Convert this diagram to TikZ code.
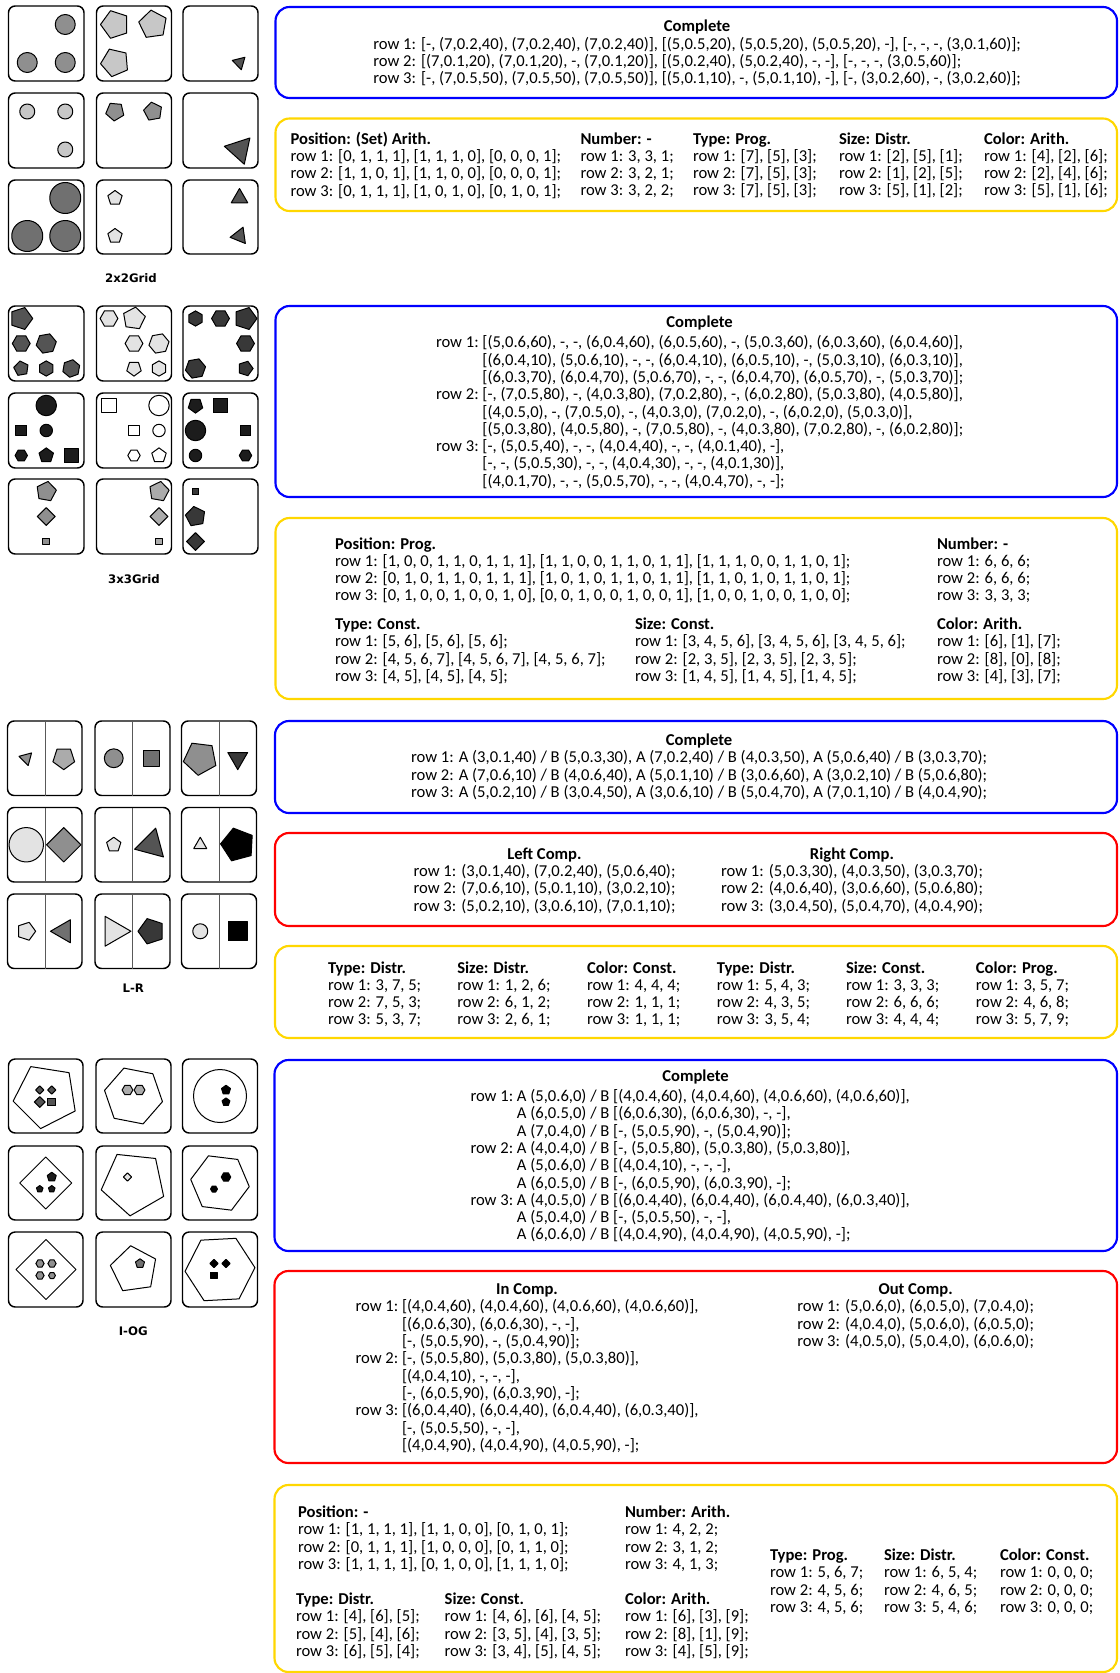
\documentclass[tikz,border=0pt]{standalone}
\usepackage{fontspec}
\setmainfont{Carlito}
\newfontfamily\lblfont{DejaVu Sans}
\definecolor{bxblue}{RGB}{0,0,255}
\definecolor{bxyellow}{RGB}{255,215,0}
\definecolor{bxred}{RGB}{255,0,0}
\colorlet{c0}{white}
\colorlet{c10}{black!11}
\colorlet{c20}{black!22}
\colorlet{c30}{black!33}
\colorlet{c40}{black!44}
\colorlet{c50}{black!56}
\colorlet{c60}{black!67}
\colorlet{c70}{black!78}
\colorlet{c80}{black!89}
\colorlet{c90}{black}
\newcommand\poly[6]{\filldraw[shp,fill=#6,shift={(#2,#3)}] ({0-(#5)}:#4) \foreach \k in {2,...,#1}{ -- ({0-(#5)-(\k-1)*360/#1}:#4)} -- cycle;}
\newcommand\crc[4]{\filldraw[shp,fill=#4] (#1,#2) circle[radius=#3*0.75pt];}
\newcommand\pnl[4]{\draw[panel] (#1,#2) rectangle (#3,#4);}
\begin{document}
\begin{tikzpicture}[x=0.75pt,y=-0.75pt,
 panel/.style={draw=black,line width=1.1pt,rounded corners=5pt,fill=white},
 shp/.style={draw=black,line width=0.75pt,line join=round},
 infobox/.style={line width=1.6pt,rounded corners=10.5pt},
 txt/.style={inner sep=0pt,outer sep=0pt,anchor=north west,font=\fontsize{12.45pt}{12.9pt}\selectfont},
 lbl/.style={inner sep=0pt,font=\lblfont\bfseries\fontsize{8.8pt}{10pt}\selectfont},
 divider/.style={draw=black!65,line width=0.6pt}]
\useasboundingbox (0,0) rectangle (1120,1673);
\fill[white] (0,0) rectangle (1120,1673);

% ---------------- 2x2Grid panels
\pnl{8.5}{6}{84}{81} \pnl{96.5}{6}{171.5}{81} \pnl{183}{6}{258}{81}
\pnl{8.5}{93}{84}{168} \pnl{96.5}{93}{171.5}{168} \pnl{183}{93}{258}{168}
\pnl{8.5}{180}{84}{254} \pnl{96.5}{180}{171.5}{254} \pnl{183}{180}{258}{254}
% row 1
\crc{65.25}{24.5}{10}{c40} \crc{27.25}{62.5}{10}{c40} \crc{65.25}{62.5}{10}{c40}
\poly{5}{115}{24.5}{14.5}{180}{c20} \poly{5}{153}{24.5}{14.5}{170}{c20} \poly{5}{115}{62.5}{14.5}{185}{c20}
\poly{3}{239.5}{62.5}{7.5}{44}{c60}
% row 2
\crc{27.25}{111.5}{7.5}{c20} \crc{65.25}{111.5}{7.5}{c20} \crc{65.25}{149.5}{7.5}{c20}
\poly{5}{115}{111.5}{9.5}{-95}{c40} \poly{5}{153}{111.5}{9.5}{100}{c40}
\poly{3}{239.5}{149.5}{15.5}{48}{c60}
% row 3
\crc{65.25}{198}{15.5}{c50} \crc{27.25}{236}{15.5}{c50} \crc{65.25}{236}{15.5}{c50}
\poly{5}{115}{198}{7.5}{90}{c10} \poly{5}{115}{236}{7.5}{90}{c10}
\poly{3}{239.5}{198}{9.5}{90}{c60} \poly{3}{239.5}{236}{9.5}{68}{c60}
\node[lbl] (lab1) at (131,278.4) {2x2Grid};

% ---------------- 3x3Grid panels
\pnl{8.5}{306}{84}{381} \pnl{96.5}{306}{171.5}{381} \pnl{183}{306}{258}{381}
\pnl{8.5}{393}{84}{468} \pnl{96.5}{393}{171.5}{468} \pnl{183}{393}{258}{468}
\pnl{8.5}{479}{84}{554} \pnl{96.5}{479}{171.5}{554} \pnl{183}{479}{258}{554}
% row 1
\poly{5}{21.25}{318.5}{11.5}{0}{c60}
\poly{6}{21.25}{343.5}{8.9}{0}{c60}
\poly{6}{46.25}{343.5}{10.2}{10}{c60}
\poly{5}{21.25}{368.5}{7.6}{100}{c60}
\poly{6}{46.25}{368.5}{7.6}{90}{c60}
\poly{6}{71.25}{368.5}{8.9}{20}{c60}
\poly{6}{109}{318.5}{8.9}{0}{c10}
\poly{5}{134}{318.5}{11.5}{10}{c10}
\poly{6}{134}{343.5}{8.9}{0}{c10}
\poly{6}{159}{343.5}{10.2}{10}{c10}
\poly{5}{134}{368.5}{7.6}{-90}{c10}
\poly{6}{159}{368.5}{7.6}{90}{c10}
\poly{6}{195.5}{318.5}{7.6}{90}{c70}
\poly{6}{220.5}{318.5}{8.9}{0}{c70}
\poly{5}{245.5}{318.5}{11.5}{0}{c70}
\poly{6}{245.5}{343.5}{8.9}{0}{c70}
\poly{6}{195.5}{368.5}{10.2}{10}{c70}
\poly{5}{245.5}{368.5}{7.6}{0}{c70}
% row 2
\crc{46.25}{405.5}{10.2}{c80} \poly{4}{21.25}{430.5}{7.6}{45}{c80} \crc{46.25}{430.5}{6.2}{c80}
\poly{6}{21.25}{455.5}{6.2}{0}{c80} \poly{5}{46.25}{455.5}{7.6}{90}{c80} \poly{4}{71.25}{455.5}{10.2}{45}{c80}
\poly{4}{109}{405.5}{10.2}{45}{c0} \crc{159}{405.5}{10.2}{c0} \poly{4}{134}{430.5}{7.6}{45}{c0}
\crc{159}{430.5}{6.2}{c0} \poly{6}{134}{455.5}{6.2}{0}{c0} \poly{5}{159}{455.5}{7.6}{90}{c0}
\poly{5}{195.5}{405.5}{7.6}{-90}{c80} \poly{4}{220.5}{405.5}{10.2}{45}{c80} \crc{195.5}{430.5}{10.2}{c80}
\poly{4}{245.5}{430.5}{7.6}{45}{c80} \crc{195.5}{455.5}{6.2}{c80} \poly{6}{245.5}{455.5}{6.2}{0}{c80}
% row 3
\poly{5}{46.25}{491.5}{10.2}{80}{c40} \poly{4}{46.25}{516.5}{8.9}{90}{c40} \poly{4}{46.25}{541.5}{4.9}{45}{c40}
\poly{5}{159}{491.5}{10.2}{80}{c30} \poly{4}{159}{516.5}{8.9}{90}{c30} \poly{4}{159}{541.5}{4.9}{45}{c30}
\poly{4}{195.5}{491.5}{4.9}{45}{c70} \poly{5}{195.5}{516.5}{10.2}{100}{c70} \poly{4}{195.5}{541.5}{8.9}{90}{c70}
\node[lbl] (lab2) at (134,579.2) {3x3Grid};

% ---------------- L-R panels
\pnl{7.5}{721}{82}{795.5} \pnl{95}{721}{170}{795.5} \pnl{181.5}{721}{256.5}{795.5}
\pnl{7.5}{807.5}{82}{882} \pnl{95}{807.5}{170}{882} \pnl{181.5}{807.5}{256.5}{882}
\pnl{7.5}{894}{82}{968.5} \pnl{95}{894}{170}{968.5} \pnl{181.5}{894}{256.5}{968.5}
\foreach \xx in {45,132.5,219}{
 \draw[divider] (\xx,721) -- (\xx,795.5);
 \draw[divider] (\xx,807.5) -- (\xx,882);
 \draw[divider] (\xx,894) -- (\xx,968.5);}
% row 1
\poly{3}{26.25}{758.25}{7.5}{45}{c40} \poly{5}{63.75}{758.25}{11.4}{-90}{c30}
\crc{113.75}{758.25}{9.4}{c40} \poly{4}{151.25}{758.25}{11.4}{45}{c50}
\poly{5}{200.25}{758.25}{17.2}{47}{c40} \poly{3}{237.75}{758.25}{11.4}{-90}{c70}
% row 2
\crc{26.25}{844.75}{17.2}{c10} \poly{4}{63.75}{844.75}{17.2}{90}{c40}
\poly{5}{113.75}{844.75}{7.5}{90}{c10} \poly{3}{151.25}{844.75}{17.2}{75}{c60}
\poly{3}{200.25}{844.75}{7.5}{90}{c10} \poly{5}{237.75}{844.75}{17.2}{177}{c90}
% row 3
\poly{5}{26.25}{931.25}{9.4}{0}{c10} \poly{3}{63.75}{931.25}{13.3}{180}{c50}
\poly{3}{113.75}{931.25}{17.2}{0}{c10} \poly{5}{151.25}{931.25}{13.3}{180}{c70}
\crc{200.25}{931.25}{7.5}{c10} \poly{4}{237.75}{931.25}{13.3}{45}{c90}
\node[lbl] (lab3) at (133.3,987.8) {L-R};

% ---------------- I-OG panels
\pnl{8.5}{1059}{83}{1133} \pnl{96}{1059}{171}{1133} \pnl{182.5}{1059}{257.5}{1133}
\pnl{8.5}{1146}{83}{1220} \pnl{96}{1146}{171}{1220} \pnl{182.5}{1146}{257.5}{1220}
\pnl{8.5}{1232}{83}{1307} \pnl{96}{1232}{171}{1307} \pnl{182.5}{1232}{257.5}{1307}
% row 1
\poly{5}{45.75}{1096}{33}{45}{c0}
\poly{4}{39.75}{1090}{4.1}{90}{c60} \poly{4}{51.75}{1090}{4.1}{90}{c60}
\poly{4}{39.75}{1102}{5.4}{90}{c60} \poly{4}{51.75}{1102}{5.4}{45}{c60}
\poly{6}{133.5}{1096}{29.5}{-11}{c0}
\poly{6}{127.5}{1090}{5.4}{0}{c30} \poly{6}{139.5}{1090}{5.4}{0}{c30}
\crc{220}{1096}{26.5}{c0}
\poly{5}{226}{1090}{4.75}{90}{c90} \poly{5}{226}{1102}{4.1}{90}{c90}
% row 2
\poly{4}{45.75}{1183}{26}{90}{c0}
\poly{5}{51.75}{1177}{4.75}{90}{c80} \poly{5}{39.75}{1189}{3.45}{90}{c80} \poly{5}{51.75}{1189}{3.45}{90}{c80}
\poly{5}{133.5}{1183}{33}{48}{c0}
\poly{4}{127.5}{1177}{4.1}{90}{c10}
\poly{6}{220}{1183}{29.5}{-7}{c0}
\poly{6}{226}{1177}{4.75}{0}{c90} \poly{6}{214}{1189}{3.45}{0}{c90}
% row 3
\poly{4}{46}{1269.5}{30}{90}{c0}
\poly{6}{40}{1263.5}{4.1}{0}{c40} \poly{6}{52}{1263.5}{4.1}{0}{c40}
\poly{6}{40}{1275.5}{4.1}{0}{c40} \poly{6}{52}{1275.5}{3.45}{0}{c40}
\poly{5}{134}{1269.5}{24}{98}{c0}
\poly{5}{140}{1263.5}{4.75}{90}{c50}
\poly{6}{220}{1269.5}{35}{3}{c0}
\poly{4}{214}{1263.5}{4.1}{90}{c90} \poly{4}{226}{1263.5}{4.1}{90}{c90} \poly{4}{214}{1275.5}{4.75}{45}{c90}
\node[lbl] (lab4) at (133.3,1331.2) {I-OG};

% ---------------- info boxes
\draw[infobox,draw=bxblue] (275.5,7) rectangle (1117,98);
\draw[infobox,draw=bxyellow] (275.5,118.5) rectangle (1117,211);
\draw[infobox,draw=bxblue] (275.5,306) rectangle (1117,497);
\draw[infobox,draw=bxyellow] (275.5,518) rectangle (1117,699);
\draw[infobox,draw=bxblue] (275,721) rectangle (1117,813);
\draw[infobox,draw=bxred] (275,833) rectangle (1117,926);
\draw[infobox,draw=bxyellow] (275,946) rectangle (1117,1038);
\draw[infobox,draw=bxblue] (274.5,1060) rectangle (1117,1251);
\draw[infobox,draw=bxred] (274.5,1271) rectangle (1117,1463);
\draw[infobox,draw=bxyellow] (274.5,1485) rectangle (1117,1672);

% ---------------- box 1
\node[txt,anchor=north] (t1) at (697,19.8) {\begin{tabular}{@{}l@{}}
\multicolumn{1}{@{}c@{}}{\textbf{Complete}}\\
row 1: [-, (7,0.2,40), (7,0.2,40), (7,0.2,40)], [(5,0.5,20), (5,0.5,20), (5,0.5,20), -], [-, -, -, (3,0.1,60)];\\
row 2: [(7,0.1,20), (7,0.1,20), -, (7,0.1,20)], [(5,0.2,40), (5,0.2,40), -, -], [-, -, -, (3,0.5,60)];\\
row 3: [-, (7,0.5,50), (7,0.5,50), (7,0.5,50)], [(5,0.1,10), -, (5,0.1,10), -], [-, (3,0.2,60), -, (3,0.2,60)];
\end{tabular}};

% ---------------- box 2
\node[txt] (t2a) at (290.5,132.2) {\begin{tabular}{@{}l@{}}
\textbf{Position: (Set) Arith.}\\
row 1: [0, 1, 1, 1], [1, 1, 1, 0], [0, 0, 0, 1];\\
row 2: [1, 1, 0, 1], [1, 1, 0, 0], [0, 0, 0, 1];\\
row 3: [0, 1, 1, 1], [1, 0, 1, 0], [0, 1, 0, 1];
\end{tabular}};
\node[txt] (t2b) at (580.5,132.2) {\begin{tabular}{@{}l@{}}
\textbf{Number: -}\\ row 1: 3, 3, 1;\\ row 2: 3, 2, 1;\\ row 3: 3, 2, 2;
\end{tabular}};
\node[txt] (t2c) at (693,132.2) {\begin{tabular}{@{}l@{}}
\textbf{Type: Prog.}\\ row 1: [7], [5], [3];\\ row 2: [7], [5], [3];\\ row 3: [7], [5], [3];
\end{tabular}};
\node[txt] (t2d) at (839,132.2) {\begin{tabular}{@{}l@{}}
\textbf{Size: Distr.}\\ row 1: [2], [5], [1];\\ row 2: [1], [2], [5];\\ row 3: [5], [1], [2];
\end{tabular}};
\node[txt] (t2e) at (984,132.2) {\begin{tabular}{@{}l@{}}
\textbf{Color: Arith.}\\ row 1: [4], [2], [6];\\ row 2: [2], [4], [6];\\ row 3: [5], [1], [6];
\end{tabular}};

% ---------------- box 3
\node[txt] (t3) at (436,315.8) {\begin{tabular}{@{}l@{}l@{}}
\multicolumn{2}{@{}c@{}}{\textbf{Complete}}\\[2pt]
row 1:~ & [(5,0.6,60), -, -, (6,0.4,60), (6,0.5,60), -, (5,0.3,60), (6,0.3,60), (6,0.4,60)],\\
 & [(6,0.4,10), (5,0.6,10), -, -, (6,0.4,10), (6,0.5,10), -, (5,0.3,10), (6,0.3,10)],\\
 & [(6,0.3,70), (6,0.4,70), (5,0.6,70), -, -, (6,0.4,70), (6,0.5,70), -, (5,0.3,70)];\\
row 2:~ & [-, (7,0.5,80), -, (4,0.3,80), (7,0.2,80), -, (6,0.2,80), (5,0.3,80), (4,0.5,80)],\\
 & [(4,0.5,0), -, (7,0.5,0), -, (4,0.3,0), (7,0.2,0), -, (6,0.2,0), (5,0.3,0)],\\
 & [(5,0.3,80), (4,0.5,80), -, (7,0.5,80), -, (4,0.3,80), (7,0.2,80), -, (6,0.2,80)];\\
row 3:~ & [-, (5,0.5,40), -, -, (4,0.4,40), -, -, (4,0.1,40), -],\\
 & [-, -, (5,0.5,30), -, -, (4,0.4,30), -, -, (4,0.1,30)],\\
 & [(4,0.1,70), -, -, (5,0.5,70), -, -, (4,0.4,70), -, -];
\end{tabular}};

% ---------------- box 4
\node[txt] (t4a) at (335,537.1) {\begin{tabular}{@{}l@{}}
\textbf{Position: Prog.}\\
row 1: [1, 0, 0, 1, 1, 0, 1, 1, 1], [1, 1, 0, 0, 1, 1, 0, 1, 1], [1, 1, 1, 0, 0, 1, 1, 0, 1];\\
row 2: [0, 1, 0, 1, 1, 0, 1, 1, 1], [1, 0, 1, 0, 1, 1, 0, 1, 1], [1, 1, 0, 1, 0, 1, 1, 0, 1];\\
row 3: [0, 1, 0, 0, 1, 0, 0, 1, 0], [0, 0, 1, 0, 0, 1, 0, 0, 1], [1, 0, 0, 1, 0, 0, 1, 0, 0];
\end{tabular}};
\node[txt] (t4b) at (937,537.1) {\begin{tabular}{@{}l@{}}
\textbf{Number: -}\\ row 1: 6, 6, 6;\\ row 2: 6, 6, 6;\\ row 3: 3, 3, 3;
\end{tabular}};
\node[txt] (t4c) at (335,617.6) {\begin{tabular}{@{}l@{}}
\textbf{Type: Const.}\\ row 1: [5, 6], [5, 6], [5, 6];\\ row 2: [4, 5, 6, 7], [4, 5, 6, 7], [4, 5, 6, 7];\\ row 3: [4, 5], [4, 5], [4, 5];
\end{tabular}};
\node[txt] (t4d) at (635,617.6) {\begin{tabular}{@{}l@{}}
\textbf{Size: Const.}\\ row 1: [3, 4, 5, 6], [3, 4, 5, 6], [3, 4, 5, 6];\\ row 2: [2, 3, 5], [2, 3, 5], [2, 3, 5];\\ row 3: [1, 4, 5], [1, 4, 5], [1, 4, 5];
\end{tabular}};
\node[txt] (t4e) at (937,617.6) {\begin{tabular}{@{}l@{}}
\textbf{Color: Arith.}\\ row 1: [6], [1], [7];\\ row 2: [8], [0], [8];\\ row 3: [4], [3], [7];
\end{tabular}};

% ---------------- box 5
\node[txt,anchor=north] (t5) at (699,733.6) {\begin{tabular}{@{}l@{}}
\multicolumn{1}{@{}c@{}}{\textbf{Complete}}\\
row 1: A (3,0.1,40) / B (5,0.3,30), A (7,0.2,40) / B (4,0.3,50), A (5,0.6,40) / B (3,0.3,70);\\
row 2: A (7,0.6,10) / B (4,0.6,40), A (5,0.1,10) / B (3,0.6,60), A (3,0.2,10) / B (5,0.6,80);\\
row 3: A (5,0.2,10) / B (3,0.4,50), A (3,0.6,10) / B (5,0.4,70), A (7,0.1,10) / B (4,0.4,90);
\end{tabular}};

% ---------------- box 6
\node[txt,anchor=north] (t6a) at (544.5,847.1) {\begin{tabular}{@{}l@{}}
\multicolumn{1}{@{}c@{}}{\textbf{Left Comp.}}\\
row 1: (3,0.1,40), (7,0.2,40), (5,0.6,40);\\
row 2: (7,0.6,10), (5,0.1,10), (3,0.2,10);\\
row 3: (5,0.2,10), (3,0.6,10), (7,0.1,10);
\end{tabular}};
\node[txt,anchor=north] (t6b) at (852,847.1) {\begin{tabular}{@{}l@{}}
\multicolumn{1}{@{}c@{}}{\textbf{Right Comp.}}\\
row 1: (5,0.3,30), (4,0.3,50), (3,0.3,70);\\
row 2: (4,0.6,40), (3,0.6,60), (5,0.6,80);\\
row 3: (3,0.4,50), (5,0.4,70), (4,0.4,90);
\end{tabular}};

% ---------------- box 7
\node[txt] (t7a) at (328,961.1) {\begin{tabular}{@{}l@{}}
\textbf{Type: Distr.}\\ row 1: 3, 7, 5;\\ row 2: 7, 5, 3;\\ row 3: 5, 3, 7;
\end{tabular}};
\node[txt] (t7b) at (457.3,961.1) {\begin{tabular}{@{}l@{}}
\textbf{Size: Distr.}\\ row 1: 1, 2, 6;\\ row 2: 6, 1, 2;\\ row 3: 2, 6, 1;
\end{tabular}};
\node[txt] (t7c) at (587,961.1) {\begin{tabular}{@{}l@{}}
\textbf{Color: Const.}\\ row 1: 4, 4, 4;\\ row 2: 1, 1, 1;\\ row 3: 1, 1, 1;
\end{tabular}};
\node[txt] (t7d) at (716.9,961.1) {\begin{tabular}{@{}l@{}}
\textbf{Type: Distr.}\\ row 1: 5, 4, 3;\\ row 2: 4, 3, 5;\\ row 3: 3, 5, 4;
\end{tabular}};
\node[txt] (t7e) at (846,961.1) {\begin{tabular}{@{}l@{}}
\textbf{Size: Const.}\\ row 1: 3, 3, 3;\\ row 2: 6, 6, 6;\\ row 3: 4, 4, 4;
\end{tabular}};
\node[txt] (t7f) at (975.8,961.1) {\begin{tabular}{@{}l@{}}
\textbf{Color: Prog.}\\ row 1: 3, 5, 7;\\ row 2: 4, 6, 8;\\ row 3: 5, 7, 9;
\end{tabular}};

% ---------------- box 8
\node[txt,anchor=base] (t8h) at (695.5,1081.9) {\textbf{Complete}};
\node[txt] (t8) at (470.5,1089.4) {\begin{tabular}{@{}l@{}l@{}}
row 1:~ & A (5,0.6,0) / B [(4,0.4,60), (4,0.4,60), (4,0.6,60), (4,0.6,60)],\\
 & A (6,0.5,0) / B [(6,0.6,30), (6,0.6,30), -, -],\\
 & A (7,0.4,0) / B [-, (5,0.5,90), -, (5,0.4,90)];\\
row 2:~ & A (4,0.4,0) / B [-, (5,0.5,80), (5,0.3,80), (5,0.3,80)],\\
 & A (5,0.6,0) / B [(4,0.4,10), -, -, -],\\
 & A (6,0.5,0) / B [-, (6,0.5,90), (6,0.3,90), -];\\
row 3:~ & A (4,0.5,0) / B [(6,0.4,40), (6,0.4,40), (6,0.4,40), (6,0.3,40)],\\
 & A (5,0.4,0) / B [-, (5,0.5,50), -, -],\\
 & A (6,0.6,0) / B [(4,0.4,90), (4,0.4,90), (4,0.5,90), -];
\end{tabular}};

% ---------------- box 9
\node[txt] (t9a) at (355.6,1282.6) {\begin{tabular}{@{}l@{}l@{}}
\multicolumn{2}{@{}c@{}}{\textbf{In Comp.}}\\
row 1:~ & [(4,0.4,60), (4,0.4,60), (4,0.6,60), (4,0.6,60)],\\
 & [(6,0.6,30), (6,0.6,30), -, -],\\
 & [-, (5,0.5,90), -, (5,0.4,90)];\\
row 2:~ & [-, (5,0.5,80), (5,0.3,80), (5,0.3,80)],\\
 & [(4,0.4,10), -, -, -],\\
 & [-, (6,0.5,90), (6,0.3,90), -];\\
row 3:~ & [(6,0.4,40), (6,0.4,40), (6,0.4,40), (6,0.3,40)],\\
 & [-, (5,0.5,50), -, -],\\
 & [(4,0.4,90), (4,0.4,90), (4,0.5,90), -];
\end{tabular}};
\node[txt] (t9b) at (797.4,1282.6) {\begin{tabular}{@{}l@{}}
\multicolumn{1}{@{}c@{}}{\textbf{Out Comp.}}\\
row 1: (5,0.6,0), (6,0.5,0), (7,0.4,0);\\
row 2: (4,0.4,0), (5,0.6,0), (6,0.5,0);\\
row 3: (4,0.5,0), (5,0.4,0), (6,0.6,0);
\end{tabular}};

% ---------------- box 10
\node[txt] (t10a) at (298,1505.6) {\begin{tabular}{@{}l@{}}
\textbf{Position: -}\\
row 1: [1, 1, 1, 1], [1, 1, 0, 0], [0, 1, 0, 1];\\
row 2: [0, 1, 1, 1], [1, 0, 0, 0], [0, 1, 1, 0];\\
row 3: [1, 1, 1, 1], [0, 1, 0, 0], [1, 1, 1, 0];
\end{tabular}};
\node[txt] (t10b) at (625,1505.6) {\begin{tabular}{@{}l@{}}
\textbf{Number: Arith.}\\ row 1: 4, 2, 2;\\ row 2: 3, 1, 2;\\ row 3: 4, 1, 3;
\end{tabular}};
\node[txt] (t10c) at (296,1592.6) {\begin{tabular}{@{}l@{}}
\textbf{Type: Distr.}\\ row 1: [4], [6], [5];\\ row 2: [5], [4], [6];\\ row 3: [6], [5], [4];
\end{tabular}};
\node[txt] (t10d) at (444.7,1592.6) {\begin{tabular}{@{}l@{}}
\textbf{Size: Const.}\\ row 1: [4, 6], [6], [4, 5];\\ row 2: [3, 5], [4], [3, 5];\\ row 3: [3, 4], [5], [4, 5];
\end{tabular}};
\node[txt] (t10e) at (625,1592.6) {\begin{tabular}{@{}l@{}}
\textbf{Color: Arith.}\\ row 1: [6], [3], [9];\\ row 2: [8], [1], [9];\\ row 3: [4], [5], [9];
\end{tabular}};
\node[txt] (t10f) at (770,1548.6) {\begin{tabular}{@{}l@{}}
\textbf{Type: Prog.}\\ row 1: 5, 6, 7;\\ row 2: 4, 5, 6;\\ row 3: 4, 5, 6;
\end{tabular}};
\node[txt] (t10g) at (884,1548.6) {\begin{tabular}{@{}l@{}}
\textbf{Size: Distr.}\\ row 1: 6, 5, 4;\\ row 2: 4, 6, 5;\\ row 3: 5, 4, 6;
\end{tabular}};
\node[txt] (t10h) at (1000,1548.6) {\begin{tabular}{@{}l@{}}
\textbf{Color: Const.}\\ row 1: 0, 0, 0;\\ row 2: 0, 0, 0;\\ row 3: 0, 0, 0;
\end{tabular}};
\end{tikzpicture}
\end{document}
